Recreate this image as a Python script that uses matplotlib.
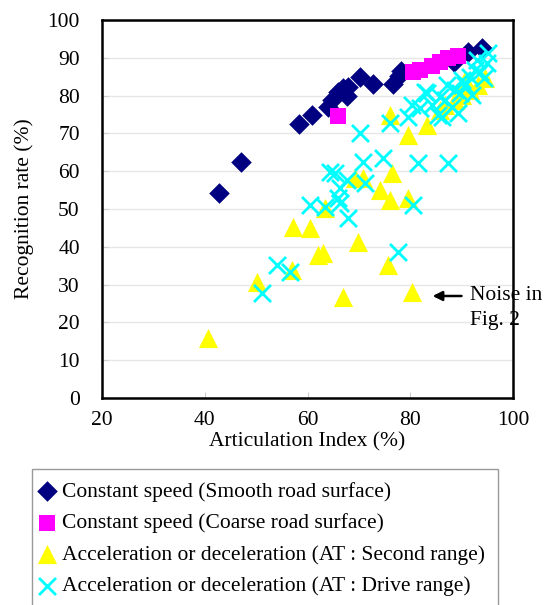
import matplotlib
matplotlib.use('Agg')
import matplotlib.pyplot as plt

plt.rcParams['font.family'] = ['Liberation Serif', 'DejaVu Serif']

# Constant speed, smooth road surface
smooth_ai = [42.8, 47.1, 58.3, 60.9, 64.0, 64.8, 65.9, 66.9, 67.9, 67.7, 70.2, 72.7,
             76.6, 77.8, 78.2, 88.5, 91.2, 94.0]
smooth_rr = [54.2, 62.4, 72.5, 74.9, 77.0, 78.8, 81.0, 82.0, 82.3, 79.9, 84.9, 83.1,
             83.1, 85.2, 86.5, 89.0, 91.5, 92.6]

# Constant speed, coarse road surface
coarse_ai = [65.9, 80.5, 81.9, 84.2, 85.8, 87.3, 89.3]
coarse_rr = [74.6, 86.2, 86.8, 87.8, 88.9, 89.9, 90.5]

# Acceleration / deceleration, AT second range
second_ai = [40.6, 50.2, 57.0, 57.2, 60.5, 63.4, 62.0, 63.0, 66.9, 69.8, 69.2, 70.8,
             74.1, 76.1, 76.4, 79.6, 75.7, 80.3, 76.1, 79.6, 83.3, 85.8, 86.8, 88.7,
             90.1, 91.6, 93.2, 94.6, 90.7]
second_rr = [15.9, 30.7, 33.9, 45.2, 45.0, 50.3, 37.8, 38.4, 26.7, 41.3, 58.2, 58.2,
             55.0, 52.4, 59.5, 52.9, 35.2, 28.0, 74.9, 69.6, 72.2, 76.2, 77.5, 78.8,
             80.2, 81.5, 82.8, 84.7, 84.1]

# Acceleration / deceleration, AT drive range
drive_ai = [51.1, 54.1, 56.6, 60.5, 63.4, 66.3, 65.9, 67.9, 66.3, 67.7, 64.4, 65.4,
            71.2, 70.8, 74.7, 81.5, 87.3, 77.6, 80.5, 70.2, 76.1, 79.6, 80.3, 81.9,
            83.3, 85.8, 85.4, 87.2, 88.1, 89.7, 90.7, 91.6, 92.6, 93.0, 94.9, 95.1,
            92.0, 89.3, 86.2, 82.9, 84.2, 86.8, 88.7, 90.1, 93.6, 94.4]
drive_rr = [27.8, 35.2, 33.3, 51.1, 50.5, 51.6, 52.9, 47.6, 55.6, 57.7, 59.8, 59.5,
            56.9, 62.4, 63.5, 62.2, 62.2, 38.6, 51.1, 70.1, 72.8, 74.3, 77.5, 76.7,
            80.7, 79.6, 74.9, 82.8, 77.0, 80.7, 82.8, 84.9, 86.8, 89.4, 88.6, 91.3,
            80.2, 75.4, 74.3, 80.9, 77.5, 78.8, 81.5, 84.1, 86.2, 84.7]

fs = 15.5

fig = plt.figure(figsize=(5.47, 6.05), dpi=100)
ax = fig.add_axes([0.1865, 0.342, 0.7515, 0.625])

ax.grid(axis='y', color='#e6e6e6', linewidth=1, zorder=0)

ax.scatter(smooth_ai, smooth_rr, marker='D', s=110, color='#000080', linewidths=0,
           label='Constant speed (Smooth road surface)', zorder=3)
ax.scatter(coarse_ai, coarse_rr, marker='s', s=130, color='#ff00ff', linewidths=0,
           label='Constant speed (Coarse road surface)', zorder=3)
ax.scatter(second_ai, second_rr, marker='^', s=190, color='#ffff00', linewidths=0,
           label='Acceleration or deceleration (AT : Second range)', zorder=3)
ax.scatter(drive_ai, drive_rr, marker='x', s=150, color='#00ffff', linewidths=2,
           label='Acceleration or deceleration (AT : Drive range)', zorder=3)

ax.set_xlim(20, 100)
ax.set_ylim(0, 100)
ax.set_xticks([20, 40, 60, 80, 100])
ax.set_yticks(range(0, 101, 10))
ax.tick_params(direction='in', length=4, color='#d0d0d0', labelsize=fs)
ax.tick_params(axis='x', pad=9)
ax.tick_params(axis='y', pad=16)
for sp in ax.spines.values():
    sp.set_linewidth(1.8)

ax.set_xlabel('Articulation Index (%)', fontsize=fs, labelpad=2)
ax.set_ylabel('Recognition rate (%)', fontsize=fs, labelpad=10)

# Noise annotation
ax.annotate('', xy=(83.8, 27.0), xytext=(90.5, 27.0),
            arrowprops=dict(arrowstyle='-|>', color='black', lw=1.8, mutation_scale=14),
            annotation_clip=False)
ax.text(91.6, 27.0, 'Noise in', fontsize=fs, va='center', ha='left', clip_on=False)
ax.text(91.6, 20.6, 'Fig. 2', fontsize=fs, va='center', ha='left', clip_on=False)

leg = fig.legend(loc='upper left', bbox_to_anchor=(32 / 547, 1 - 469 / 605),
                 fontsize=fs, frameon=True, fancybox=False, edgecolor='#808080',
                 handletextpad=0.6, handlelength=0.2, borderpad=0.6, borderaxespad=0,
                 labelspacing=0.53, scatterpoints=1)
leg.get_frame().set_linewidth(1.0)

fig.savefig('out.png', dpi=100)
